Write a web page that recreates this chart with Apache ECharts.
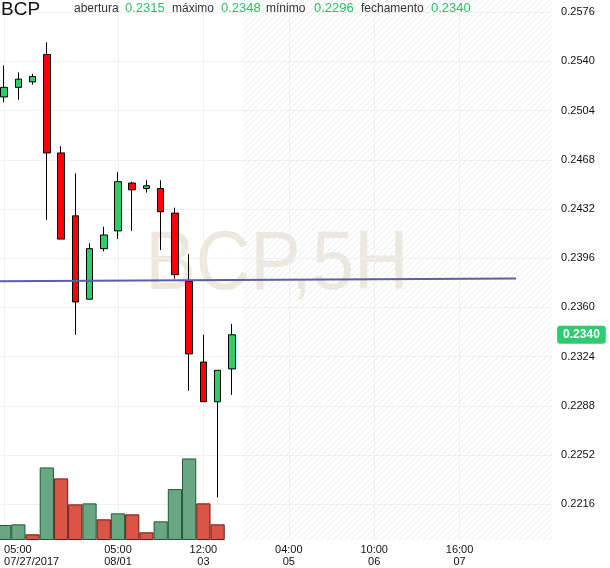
<!DOCTYPE html>
<html><head><meta charset="utf-8">
<script src="https://cdn.jsdelivr.net/npm/echarts@6/dist/echarts.min.js"></script>
<style>html,body{margin:0;padding:0;background:#fff;overflow:hidden}#c{position:absolute;left:-3px;top:0;width:613px;height:568px}</style>
</head><body><div id="c"></div>
<script>
// ---- data ----
const symbolName = 'BCP';
const period = '5H';
const slotCount = 39;
const tickIndex = [0, 8, 14, 20, 26, 32];
const tickText = ['05:00\n07/27/2017', '05:00\n08/01', '12:00\n03', '04:00\n05', '10:00\n06', '16:00\n07'];
const opens  = [0.2514, 0.2521, 0.2525, 0.2545, 0.2473, 0.2427, 0.2366, 0.2403, 0.2416, 0.2451, 0.2447, 0.2447, 0.2429, 0.2379, 0.2320, 0.2291, 0.2315];
const closes = [0.2521, 0.2527, 0.2529, 0.2473, 0.2410, 0.2364, 0.2403, 0.2413, 0.2452, 0.2446, 0.2449, 0.2430, 0.2384, 0.2326, 0.2291, 0.2314, 0.2340];
const lows   = [0.2510, 0.2512, 0.2523, 0.2424, 0.2410, 0.2340, 0.2366, 0.2401, 0.2410, 0.2416, 0.2444, 0.2402, 0.2381, 0.2299, 0.2291, 0.2221, 0.2296];
const highs  = [0.2537, 0.2532, 0.2531, 0.2554, 0.2478, 0.2458, 0.2407, 0.2419, 0.2459, 0.2452, 0.2453, 0.2453, 0.2433, 0.2399, 0.2340, 0.2314, 0.2348];
const volumes = [150, 157, 57, 727, 617, 357, 367, 207, 267, 257, 77, 187, 510, 817, 367, 157];
const volumeUp = [true, true, false, true, false, false, true, false, true, false, false, true, true, true, false, false];
const yTicks = [0.2216, 0.2252, 0.2288, 0.2324, 0.2360, 0.2396, 0.2432, 0.2468, 0.2504, 0.2540, 0.2576];
const trendLine = [[-0.5, 0.23792], [35.97, 0.23812]];
const futureStart = 16.75;

// ---- build ----
const FONT = "'Liberation Sans', Arial, sans-serif";
const SHIFT = 3; // canvas is placed 3px left of the page edge
const categories = Array.from({length: slotCount}, (_, i) => {
  const k = tickIndex.indexOf(i);
  return k >= 0 ? tickText[k] : 'slot' + i;
});
const candleData = opens.map((o, i) => [o, closes[i], lows[i], highs[i]]);
const volData = volumes.map((v, i) => ({
  value: v,
  itemStyle: volumeUp[i]
    ? {color: '#69a783', borderColor: '#1f5a36'}
    : {color: '#d95545', borderColor: '#6e1a14'}
}));
const last = opens.length - 1;

function hatch() {
  const c = document.createElement('canvas');
  c.width = 6; c.height = 6;
  const g = c.getContext('2d');
  g.strokeStyle = '#e9e9e9';
  g.lineWidth = 1;
  g.beginPath();
  g.moveTo(0, 6); g.lineTo(6, 0);
  g.moveTo(-1, 1); g.lineTo(1, -1);
  g.moveTo(5, 7); g.lineTo(7, 5);
  g.stroke();
  return c;
}

const header = [
  ['abertura', 74, false], [opens[last].toFixed(4), 125, true],
  ['máximo', 172, false], [highs[last].toFixed(4), 221, true],
  ['mínimo', 266, false], [lows[last].toFixed(4), 314, true],
  ['fechamento', 361, false], [closes[last].toFixed(4), 431, true]
];

const chart = echarts.init(document.getElementById('c'), null, {renderer: 'canvas'});
chart.setOption({
  animation: false,
  backgroundColor: '#fff',
  grid: {left: 0, right: 57.9, top: 0, bottom: 27, containLabel: false},
  graphic: [
    {type: 'text', x: 277 + SHIFT, y: 266, scaleX: 0.9, z: -1, silent: true,
     style: {text: symbolName + ',' + period, font: '84px ' + FONT, fill: 'rgba(214,205,180,0.45)', align: 'center', verticalAlign: 'middle'}},
    {type: 'text', x: 1 + SHIFT, y: 10, z: 100,
     style: {text: symbolName, font: '19px ' + FONT, fill: '#111', verticalAlign: 'middle'}}
  ].concat(header.map(h => ({
    type: 'text', x: h[1] + SHIFT, y: h[2] ? 8 : 9, z: 100,
    style: {text: h[0], font: (h[2] ? '13px ' : '12px ') + FONT, fill: h[2] ? '#22c55e' : '#333', verticalAlign: 'middle'}
  }))),
  xAxis: [
    {type: 'category', data: categories, boundaryGap: true,
     axisLine: {show: false}, axisTick: {show: false}, splitLine: {show: false},
     axisLabel: {interval: (i) => tickIndex.indexOf(i) >= 0, color: '#111', fontSize: 11, fontFamily: FONT,
                 lineHeight: 12, margin: 4, alignMinLabel: 'left'}},
    {type: 'value', min: -0.5, max: slotCount - 0.5, position: 'bottom',
     axisLine: {show: false}, axisTick: {show: false, customValues: tickIndex}, axisLabel: {show: false},
     splitLine: {show: true, lineStyle: {color: '#f0f0f0', width: 1}}}
  ],
  yAxis: [
    {type: 'value', position: 'right', min: 0.218985, max: 0.258491, scale: true,
     axisLine: {show: false}, axisTick: {show: false, customValues: yTicks},
     axisLabel: {customValues: yTicks, formatter: v => v.toFixed(4), color: '#111', fontSize: 11, fontFamily: FONT, margin: 9},
     splitLine: {show: true, lineStyle: {color: '#f0f0f0', width: 1}}},
    {type: 'value', min: 0, max: 5410, show: false}
  ],
  series: [
    {type: 'line', xAxisIndex: 1, yAxisIndex: 0, data: trendLine, symbol: 'none', z: 4,
     lineStyle: {color: '#5b5ea8', width: 2},
     markArea: {silent: true, itemStyle: {color: {image: hatch(), repeat: 'repeat'}},
                data: [[{xAxis: futureStart}, {xAxis: slotCount - 0.5}]]}},
    {type: 'bar', xAxisIndex: 0, yAxisIndex: 1, data: volData, barWidth: '100%', z: 2,
     itemStyle: {borderWidth: 1}},
    {type: 'candlestick', xAxisIndex: 0, yAxisIndex: 0, data: candleData, barWidth: 7, z: 3,
     itemStyle: {color: '#2ccf66', color0: '#ff0000', borderColor: '#000', borderColor0: '#000', borderWidth: 1},
     markLine: {silent: true, symbol: ['none', 'none'], animation: false, precision: 4,
       lineStyle: {color: 'rgba(0,0,0,0)', width: 0, type: 'solid'},
       label: {show: true, position: 'end', distance: 5, formatter: p => Number(p.value).toFixed(4), color: '#fff', fontSize: 12, fontWeight: 'bold',
               fontFamily: FONT, backgroundColor: '#2ecc71', padding: [3, 6, 3, 6], borderRadius: 3, opacity: 1},
       emphasis: {disabled: true},
       data: [{yAxis: closes[last]}]}}
  ]
});
</script></body></html>
